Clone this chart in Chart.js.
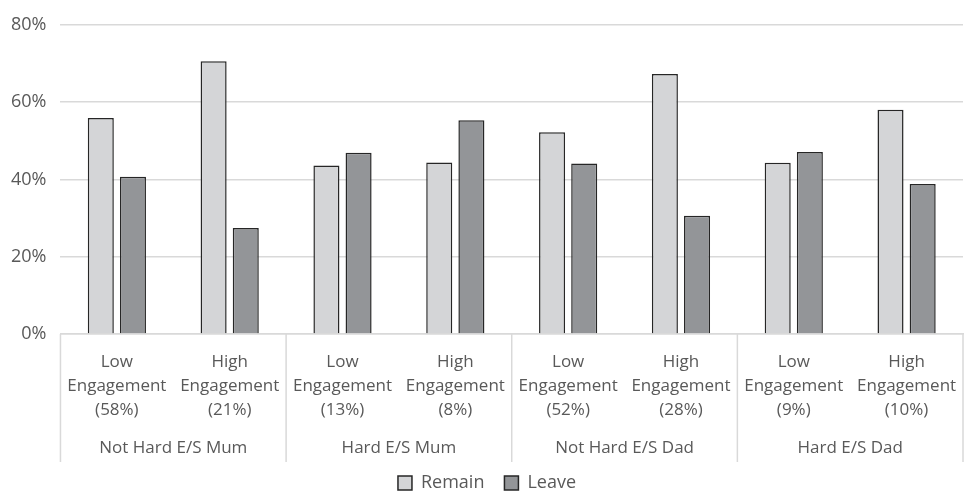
<!DOCTYPE html>
<html>
<head>
<meta charset="utf-8">
<script src="https://cdn.jsdelivr.net/npm/chart.js@4"></script>
<style>
  html, body { margin: 0; padding: 0; background: #fff; }
  #wrap { width: 964px; height: 491px; }
</style>
</head>
<body>
<div id="wrap"><canvas id="c" width="964" height="491"></canvas></div>
<script>
// Engagement categories, two per parent group
const categories = [
  ["Low", "Engagement", "(58%)"], ["High", "Engagement", "(21%)"],
  ["Low", "Engagement", "(13%)"], ["High", "Engagement", "(8%)"],
  ["Low", "Engagement", "(52%)"], ["High", "Engagement", "(28%)"],
  ["Low", "Engagement", "(9%)"],  ["High", "Engagement", "(10%)"]
];
const groups = ["Not Hard E/S Mum", "Hard E/S Mum", "Not Hard E/S Dad", "Hard E/S Dad"];

// Share of each outcome, in percent
const remain = [55.9, 70.6, 43.6, 44.4, 52.2, 67.3, 44.3, 58.0];
const leave  = [40.7, 27.4, 46.9, 55.3, 44.1, 30.6, 47.1, 38.8];

const yTicks = [0, 20, 40, 60, 80];

const FONT = "'Open Sans', 'Liberation Sans', sans-serif";
const TEXT = "#595959";
const LINE = "#d9d9d9";

// Second label row: parent group names, with separators between groups
const groupRow = {
  id: "groupRow",
  afterDraw(chart) {
    const x = chart.scales.x;
    const ctx = chart.ctx;
    const per = categories.length / groups.length;
    const top = chart.chartArea.bottom;
    ctx.save();
    ctx.strokeStyle = LINE;
    ctx.lineWidth = 1.5;
    for (let g = 0; g <= groups.length; g++) {
      const px = x.getPixelForValue(g * per - 0.5);
      ctx.beginPath();
      ctx.moveTo(px, top);
      ctx.lineTo(px, top + 128);
      ctx.stroke();
    }
    ctx.fillStyle = TEXT;
    ctx.font = "17px " + FONT;
    ctx.textAlign = "center";
    ctx.textBaseline = "middle";
    groups.forEach((name, g) => {
      const cx = x.getPixelForValue(g * per + (per - 1) / 2);
      ctx.fillText(name, cx, top + 114);
    });
    ctx.restore();
  }
};

new Chart(document.getElementById("c"), {
  type: "bar",
  data: {
    labels: categories,
    datasets: [
      {
        label: "Remain",
        data: remain,
        backgroundColor: "#d4d5d7",
        borderColor: "#262626",
        borderWidth: 1.5,
        categoryPercentage: 0.57,
        barPercentage: 0.81
      },
      {
        label: "Leave",
        data: leave,
        backgroundColor: "#939598",
        borderColor: "#262626",
        borderWidth: 1.5,
        categoryPercentage: 0.57,
        barPercentage: 0.81
      }
    ]
  },
  options: {
    responsive: false,
    animation: false,
    layout: { padding: { left: 11, right: 1, top: 13.5, bottom: 0 } },
    plugins: {
      legend: {
        position: "bottom",
        maxHeight: 37,
        labels: {
          boxWidth: 14,
          boxHeight: 14,
          color: TEXT,
          font: { family: FONT, size: 18 },
          padding: 20
        }
      },
      tooltip: { enabled: false }
    },
    scales: {
      y: {
        min: 0,
        max: 80,
        afterBuildTicks(axis) { axis.ticks = yTicks.map(v => ({ value: v })); },
        afterFit(axis) { axis.width -= axis.options.ticks.padding; },
        ticks: {
          color: TEXT,
          font: { family: FONT, size: 18 },
          padding: 14,
          callback: v => v + "%"
        },
        grid: { color: LINE, lineWidth: 1.5, drawTicks: false },
        border: { display: false }
      },
      x: {
        afterFit(axis) {
          axis.paddingLeft = 0;
          axis.paddingRight = 0;
          axis.height = 120;   // room for the group-name row
        },
        grid: { display: false },
        border: { display: true, color: LINE, width: 1.5 },
        ticks: {
          color: TEXT,
          font: { family: FONT, size: 17, lineHeight: 24 / 17 },
          padding: 8,
          maxRotation: 0,
          autoSkip: false
        }
      }
    }
  },
  plugins: [groupRow]
});
</script>
</body>
</html>
